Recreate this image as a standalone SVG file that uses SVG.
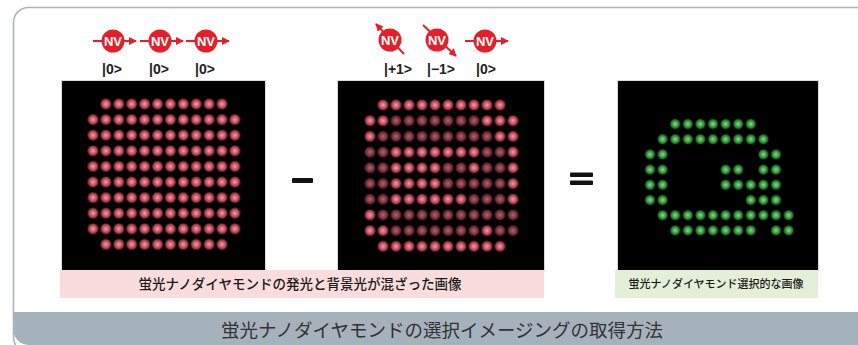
<svg xmlns="http://www.w3.org/2000/svg" width="858" height="345" viewBox="0 0 858 345">
  <style>
    .nv-ring { fill: #e51f2a; }
    .nv-text { fill: #ffffff; font-family: "Liberation Sans", Arial, sans-serif; font-weight: bold; font-size: 13px; text-anchor: middle; }
    .nv-axis { stroke: #e51f2a; stroke-width: 2; fill: none; marker-end: url(#tip); }
    .ket { fill: #222222; font-family: "Liberation Sans", Arial, sans-serif; font-weight: bold; font-size: 14px; text-anchor: middle; }
    .panel { fill: #000000; stroke: #d8dcdf; stroke-width: 1; }
    .op { fill: #111111; }
    .cap { fill: #1a1a1a; font-family: "Noto Sans CJK JP", sans-serif; font-weight: 500; text-anchor: middle; }
    .title { fill: #333333; font-family: "Noto Sans CJK JP", sans-serif; font-size: 18.5px; text-anchor: middle; }
  </style>
  <defs>
    <marker id="tip" viewBox="0 0 8 8" refX="7" refY="4" markerWidth="4" markerHeight="4" orient="auto" markerUnits="strokeWidth">
      <path d="M0,0 L8,4 L0,8 Z" fill="#e51f2a"/>
    </marker>
    <radialGradient id="pinkDot">
      <stop offset="0" stop-color="#f2a2ad"/>
      <stop offset="0.4" stop-color="#d8606f"/>
      <stop offset="0.75" stop-color="#8e2f3b"/>
      <stop offset="1" stop-color="#000000" stop-opacity="0"/>
    </radialGradient>
    <radialGradient id="greenDot">
      <stop offset="0" stop-color="#8ede8e"/>
      <stop offset="0.4" stop-color="#47ab4d"/>
      <stop offset="0.75" stop-color="#1d6623"/>
      <stop offset="1" stop-color="#000000" stop-opacity="0"/>
    </radialGradient>
    <!-- dot lattices -->
    <pattern id="gridA" patternUnits="userSpaceOnUse" x="86.55" y="96.2" width="12.9" height="15.6">
      <circle cx="6.45" cy="7.8" r="6.4" fill="url(#pinkDot)"/>
    </pattern>
    <pattern id="gridB" patternUnits="userSpaceOnUse" x="363.5" y="97.15" width="13" height="15.7">
      <circle cx="6.5" cy="7.85" r="6.4" fill="url(#pinkDot)"/>
    </pattern>
    <pattern id="dimB" patternUnits="userSpaceOnUse" x="363.5" y="97.15" width="13" height="15.7">
      <circle cx="6.5" cy="7.85" r="6.4" fill="#000000" fill-opacity="0.33"/>
    </pattern>
    <pattern id="gridC" patternUnits="userSpaceOnUse" x="643.7" y="116.4" width="12.6" height="15.2">
      <circle cx="6.3" cy="7.6" r="6" fill="url(#greenDot)"/>
    </pattern>
  </defs>

  <!-- outer frame and title band -->
  <g id="frame">
    <rect x="13.5" y="7.5" width="860" height="345" rx="15" ry="15" fill="#ffffff" stroke="#a9b5be" stroke-width="1.6"/>
    <path d="M13.5,312 H858 V345 H28.5 A15,15 0 0 1 13.5,330 Z" fill="#a6b2bb"/>
    <text class="title" x="442" y="337">蛍光ナノダイヤモンドの選択イメージングの取得方法</text>
  </g>

  <!-- spin states above the first image -->
  <g id="spins-left">
    <line class="nv-axis" x1="93" y1="41" x2="136" y2="41"/>
    <circle class="nv-ring" cx="113" cy="41" r="11.5"/>
    <text class="nv-text" x="113" y="45.5">NV</text>
    <line class="nv-axis" x1="140" y1="41" x2="183" y2="41"/>
    <circle class="nv-ring" cx="160" cy="41" r="11.5"/>
    <text class="nv-text" x="160" y="45.5">NV</text>
    <line class="nv-axis" x1="186" y1="41" x2="229" y2="41"/>
    <circle class="nv-ring" cx="206" cy="41" r="11.5"/>
    <text class="nv-text" x="206" y="45.5">NV</text>
    <text class="ket" x="112" y="74">|0&gt;</text>
    <text class="ket" x="159" y="74">|0&gt;</text>
    <text class="ket" x="205" y="74">|0&gt;</text>
  </g>

  <!-- spin states above the second image -->
  <g id="spins-right">
    <line class="nv-axis" x1="404" y1="54" x2="376" y2="24"/>
    <circle class="nv-ring" cx="390" cy="40" r="11.5"/>
    <text class="nv-text" x="390" y="44.5">NV</text>
    <line class="nv-axis" x1="423" y1="25" x2="456" y2="56"/>
    <circle class="nv-ring" cx="437" cy="40" r="11.5"/>
    <text class="nv-text" x="437" y="44.5">NV</text>
    <line class="nv-axis" x1="465" y1="41" x2="508" y2="41"/>
    <circle class="nv-ring" cx="485" cy="41" r="11.5"/>
    <text class="nv-text" x="485" y="45.5">NV</text>
    <text class="ket" x="398" y="74">|+1&gt;</text>
    <text class="ket" x="441" y="74">|−1&gt;</text>
    <text class="ket" x="486" y="74">|0&gt;</text>
  </g>

  <!-- image 1: all emitters bright -->
  <g id="image-mixed-1">
    <rect class="panel" x="61.5" y="80.5" width="204" height="190"/>
    <rect x="99.45" y="96.2" width="129" height="15.6" fill="url(#gridA)"/>
    <rect x="86.55" y="111.8" width="154.8" height="124.8" fill="url(#gridA)"/>
    <rect x="99.45" y="236.6" width="129" height="15.6" fill="url(#gridA)"/>
  </g>

  <!-- image 2: selected emitters dimmed -->
  <g id="image-mixed-2">
    <rect class="panel" x="337.5" y="80.5" width="207" height="190"/>
    <rect x="376.5" y="97.15" width="130" height="15.7" fill="url(#gridB)"/>
    <rect x="363.5" y="112.85" width="156" height="125.6" fill="url(#gridB)"/>
    <rect x="376.5" y="238.45" width="130" height="15.7" fill="url(#gridB)"/>
    <g fill="url(#dimB)">
      <rect x="389.5" y="112.85" width="91" height="15.7"/>
      <rect x="376.5" y="128.55" width="117" height="15.7"/>
      <rect x="363.5" y="144.25" width="26" height="15.7"/>
      <rect x="480.5" y="144.25" width="26" height="15.7"/>
      <rect x="363.5" y="159.95" width="26" height="15.7"/>
      <rect x="441.5" y="159.95" width="26" height="15.7"/>
      <rect x="480.5" y="159.95" width="26" height="15.7"/>
      <rect x="363.5" y="175.65" width="26" height="15.7"/>
      <rect x="441.5" y="175.65" width="65" height="15.7"/>
      <rect x="363.5" y="191.35" width="26" height="15.7"/>
      <rect x="467.5" y="191.35" width="39" height="15.7"/>
      <rect x="376.5" y="207.05" width="143" height="15.7"/>
      <rect x="389.5" y="222.75" width="91" height="15.7"/>
      <rect x="493.5" y="222.75" width="26" height="15.7"/>
    </g>
  </g>

  <!-- image 3: difference, only selected emitters -->
  <g id="image-selected">
    <rect class="panel" x="617.5" y="80.5" width="201" height="190"/>
    <g fill="url(#gridC)">
      <rect x="668.9" y="116.4" width="88.2" height="15.2"/>
      <rect x="656.3" y="131.6" width="113.4" height="15.2"/>
      <rect x="643.7" y="146.8" width="25.2" height="15.2"/>
      <rect x="757.1" y="146.8" width="25.2" height="15.2"/>
      <rect x="643.7" y="162" width="25.2" height="15.2"/>
      <rect x="719.3" y="162" width="25.2" height="15.2"/>
      <rect x="757.1" y="162" width="25.2" height="15.2"/>
      <rect x="643.7" y="177.2" width="25.2" height="15.2"/>
      <rect x="719.3" y="177.2" width="63" height="15.2"/>
      <rect x="643.7" y="192.4" width="25.2" height="15.2"/>
      <rect x="744.5" y="192.4" width="37.8" height="15.2"/>
      <rect x="656.3" y="207.6" width="138.6" height="15.2"/>
      <rect x="668.9" y="222.8" width="88.2" height="15.2"/>
      <rect x="769.7" y="222.8" width="25.2" height="15.2"/>
    </g>
  </g>

  <!-- operators -->
  <g id="minus">
    <rect class="op" x="292" y="178" width="21" height="5" rx="1"/>
  </g>
  <g id="equals">
    <rect class="op" x="570" y="172.5" width="23" height="4.5" rx="1"/>
    <rect class="op" x="570" y="180.5" width="23" height="4.5" rx="1"/>
  </g>

  <!-- captions -->
  <g id="caption-mixed">
    <rect x="60" y="270" width="484" height="28" fill="#fbdcdd"/>
    <text class="cap" x="300" y="289" font-size="13.5">蛍光ナノダイヤモンドの発光と背景光が混ざった画像</text>
  </g>
  <g id="caption-selected">
    <rect x="615" y="270" width="203" height="28" fill="#e3efd7"/>
    <text class="cap" x="716" y="288" font-size="11">蛍光ナノダイヤモンド選択的な画像</text>
  </g>
</svg>
